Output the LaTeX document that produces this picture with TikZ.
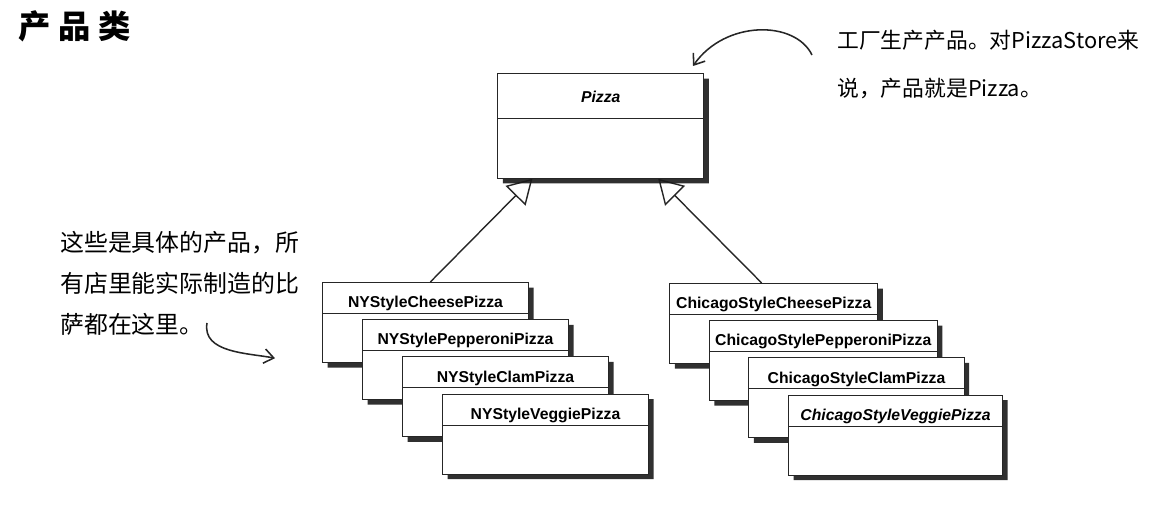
\documentclass[tikz,border=0pt]{standalone}
\usepackage{fontspec}
\setmainfont{Liberation Sans}
\newfontfamily\cjk{Noto Sans CJK SC}
\usetikzlibrary{arrows.meta,calc,shapes.multipart,shadows,backgrounds}

\begin{document}
\begin{tikzpicture}[
  >={Straight Barb[length=2.4mm,width=3.6mm]},
  classbox/.style={rectangle split,rectangle split parts=2,draw=black!85,line width=0.7pt,
    fill=white,inner sep=0pt,minimum width=#1,
    font=\bfseries\fontsize{11.2}{13}\selectfont,
    drop shadow={shadow xshift=3.6pt,shadow yshift=-3.6pt,fill=black!90,opacity=0.9}},
  inherit/.style={black!85,line width=1pt,-{Triangle[open,length=6mm,width=7mm]}},
  remark/.style={black!85,line width=1.1pt,->},
]
\useasboundingbox (0,0) rectangle (28.875,12.675);

% ============================ abstract product ============================
\node[classbox=5.15cm,anchor=north west] (pizza) at (12.43,10.85)
  {\rule[-0.38cm]{0pt}{1.1cm}\itshape Pizza\nodepart{two}\rule{0pt}{1.47cm}};

% ============================ concrete products: NY ============================
\foreach \nm/\txt [count=\i from 0] in {nycheese/NYStyleCheesePizza,nypepperoni/NYStylePepperoniPizza,
    nyclam/NYStyleClamPizza,nyveggie/NYStyleVeggiePizza}{
  \node[classbox=5.15cm,anchor=north west] (\nm) at ($(8.05,5.625)+\i*(1.0,-0.93)$)
    {\rule[-0.13cm]{0pt}{0.75cm}\txt\nodepart{two}\rule{0pt}{1.2cm}};}

% ============================ concrete products: Chicago ============================
\foreach \nm/\txt/\w [count=\i from 0] in {chcheese/ChicagoStyleCheesePizza/5.2,
    chpepperoni/ChicagoStylePepperoniPizza/5.7,chclam/ChicagoStyleClamPizza/5.38,
    chveggie/\itshape ChicagoStyleVeggiePizza/5.35}{
  \node[classbox=\w cm,anchor=north west] (\nm) at ($(16.73,5.6)+\i*(0.99,-0.93)$)
    {\rule[-0.13cm]{0pt}{0.75cm}\txt\nodepart{two}\rule{0pt}{1.2cm}};}

% inheritance (behind the boxes, so the shadow covers the tips)
\begin{scope}[on background layer]
  \draw[inherit] ([xshift=0.12cm]nycheese.north) -- ([xshift=0.88cm]pizza.south west);
  \draw[inherit] ([xshift=-0.3cm]chcheese.north) -- ([xshift=-1.15cm]pizza.south east);
\end{scope}

% ============================ remarks ============================
\node[font=\cjk\bfseries\fontsize{23}{28}\selectfont] (title) at (1.875,12.025) {产\kern0.24em品\kern0.24em类};

\node[anchor=north west,inner sep=0pt,align=left,font=\cjk\fontsize{15.5}{34}\selectfont] (factorynote)
  at (20.925,11.925) {工厂生产产品。对PizzaStore来\\说，产品就是Pizza。};
\node[anchor=north west,inner sep=0pt,align=left,font=\cjk\fontsize{17}{29}\selectfont] (concretenote)
  at (1.5,6.9) {这些是具体的产品，所\\有店里能实际制造的比\\萨都在这里。};

% hand-drawn pointers
\coordinate (factorytail) at (20.3,11.3);
\coordinate (factorytip) at (17.325,11.025);
\draw[remark] (factorytail) .. controls (19.875,12.175) and (18.125,12.175) .. (factorytip);

\coordinate (concretetail) at (5.175,4.6);
\coordinate (concretetip) at (6.875,3.72);
\draw[remark] (concretetail) .. controls (5.05,3.85) and (6.2,3.85) .. (concretetip);

\end{tikzpicture}
\end{document}
